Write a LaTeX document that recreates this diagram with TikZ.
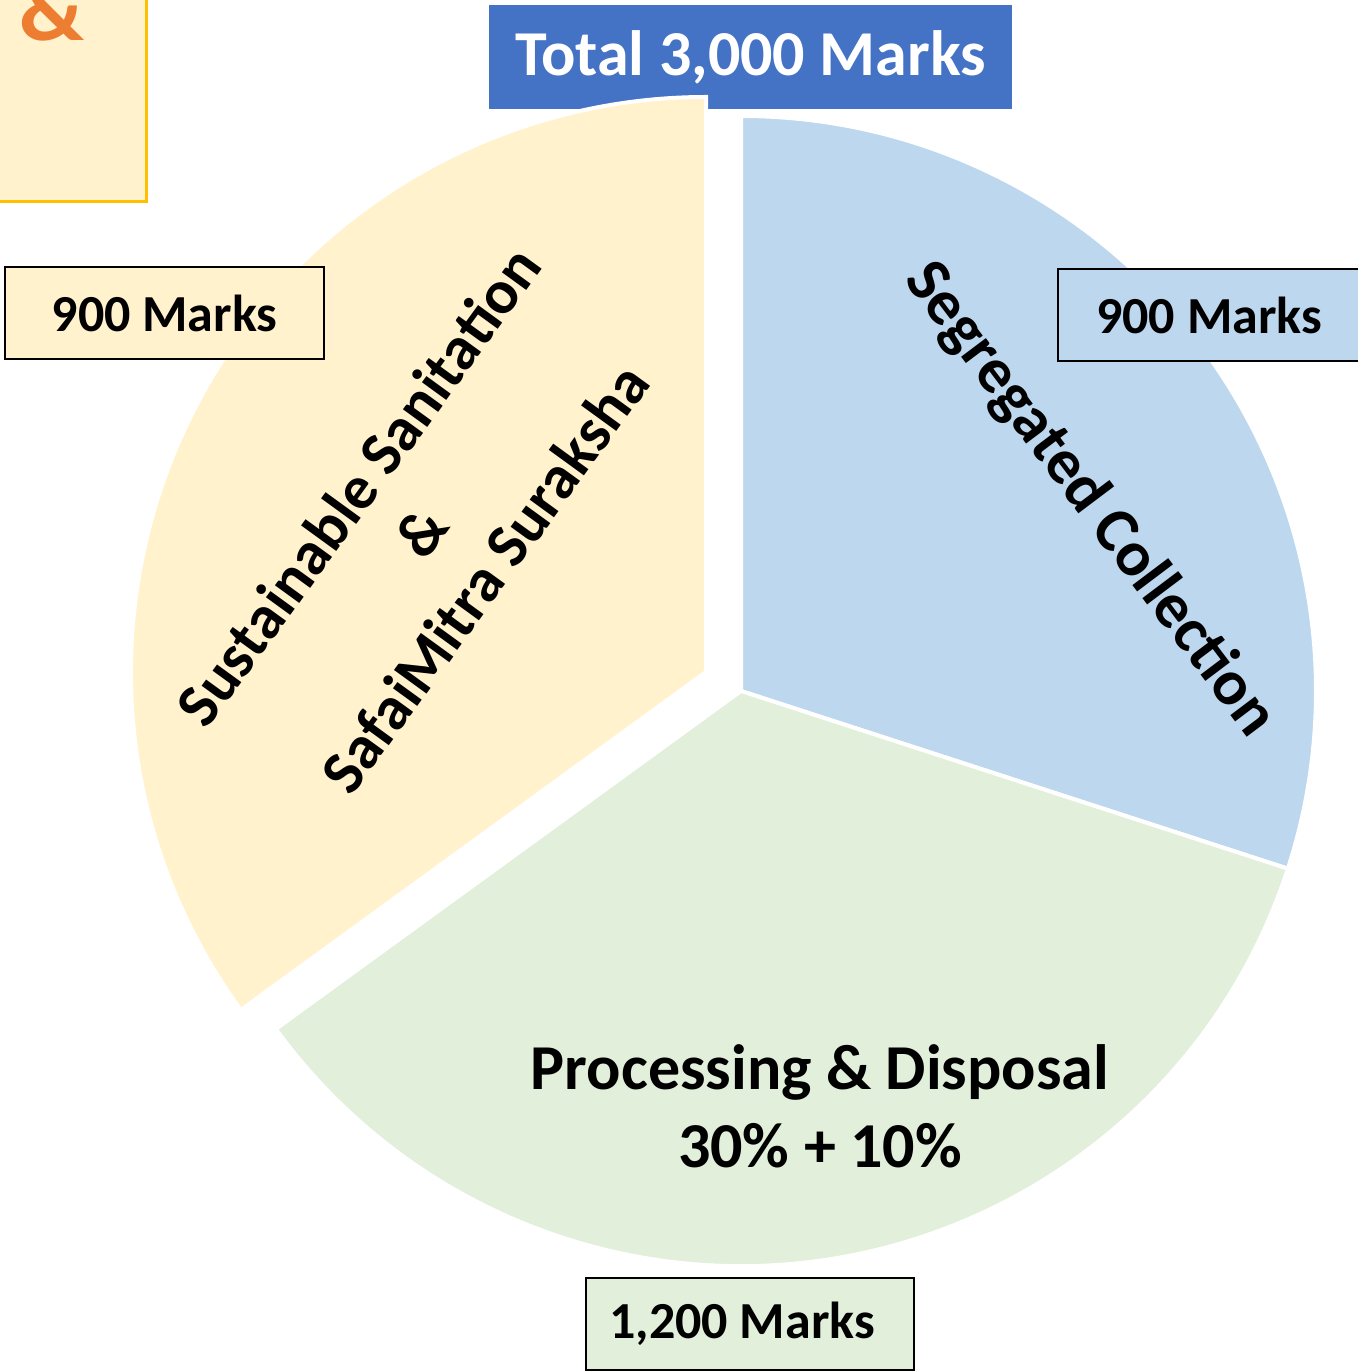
\documentclass[tikz,border=0pt]{standalone}
\usepackage{fontspec}
\setmainfont{Carlito}
\definecolor{titleblue}{HTML}{4472C4}
\definecolor{sliceblue}{HTML}{BDD7EE}
\definecolor{slicegreen}{HTML}{E2EFDA}
\definecolor{sliceyellow}{HTML}{FFF2CC}
\definecolor{ampborder}{HTML}{FFC000}
\definecolor{amporange}{HTML}{ED7D31}
\begin{document}
\begin{tikzpicture}[x=0.5pt,y=0.5pt,
  slice/.style={draw=white,line width=2pt,line join=miter},
  bigtext/.style={font=\bfseries\fontsize{32}{39}\selectfont,align=center,inner sep=0pt},
  markbox/.style={draw=black,line width=1pt,font=\bfseries\fontsize{26}{31}\selectfont,
    minimum height=46pt,inner sep=0pt}]
\useasboundingbox (0,0) rectangle (1358,1372);
\clip (0,0) rectangle (1358,1372);
% partially visible box top-left
\node[draw=ampborder,line width=1.5pt,fill=sliceyellow,minimum width=79pt,minimum height=105pt,anchor=north east,inner sep=0pt] (ampbox) at (148,1382) {};
\node[text=amporange,font=\bfseries\fontsize{46}{50}\selectfont,anchor=base,inner sep=0pt] (amp) at (52,1331) {\&};
% title
\node[fill=titleblue,text=white,font=\bfseries\fontsize{32}{38}\selectfont,minimum width=261.5pt,minimum height=52pt,inner sep=0pt] (title) at (750.5,1315) {Total 3,000 Marks};
% slices
\coordinate (C) at (741,681);
\coordinate (Y) at (706,700);
\path[slice,fill=sliceblue] (C) -- ++(90:575) arc (90:-18:575) -- cycle;
\path[slice,fill=slicegreen] (C) -- ++(-18:575) arc (-18:-144:575) -- cycle;
\path[slice,fill=sliceyellow] (Y) -- ++(216:575) arc (216:90:575) -- cycle;
% slice texts
\node[bigtext,rotate=-53] (txtB) at (1090,872) {Segregated Collection};
\node[bigtext,rotate=54,font=\bfseries\fontsize{31}{39}\selectfont] (txtY) at (421,840) {Sustainable Sanitation\\\&\\SafaiMitra Suraksha};
\node[bigtext] (txtG) at (820,266) {Processing \& Disposal\\30\% + 10\%};
% mark boxes
\node[markbox,fill=sliceyellow,minimum width=159.5pt] (lblY) at (164.5,1059) {900 Marks};
\node[markbox,fill=sliceblue,minimum width=151pt] (lblB) at (1209,1057) {900 Marks};
\node[markbox,fill=slicegreen,minimum width=164pt] (lblG) at (750,48) {\hspace*{-8pt}1,200 Marks};
\end{tikzpicture}
\end{document}
